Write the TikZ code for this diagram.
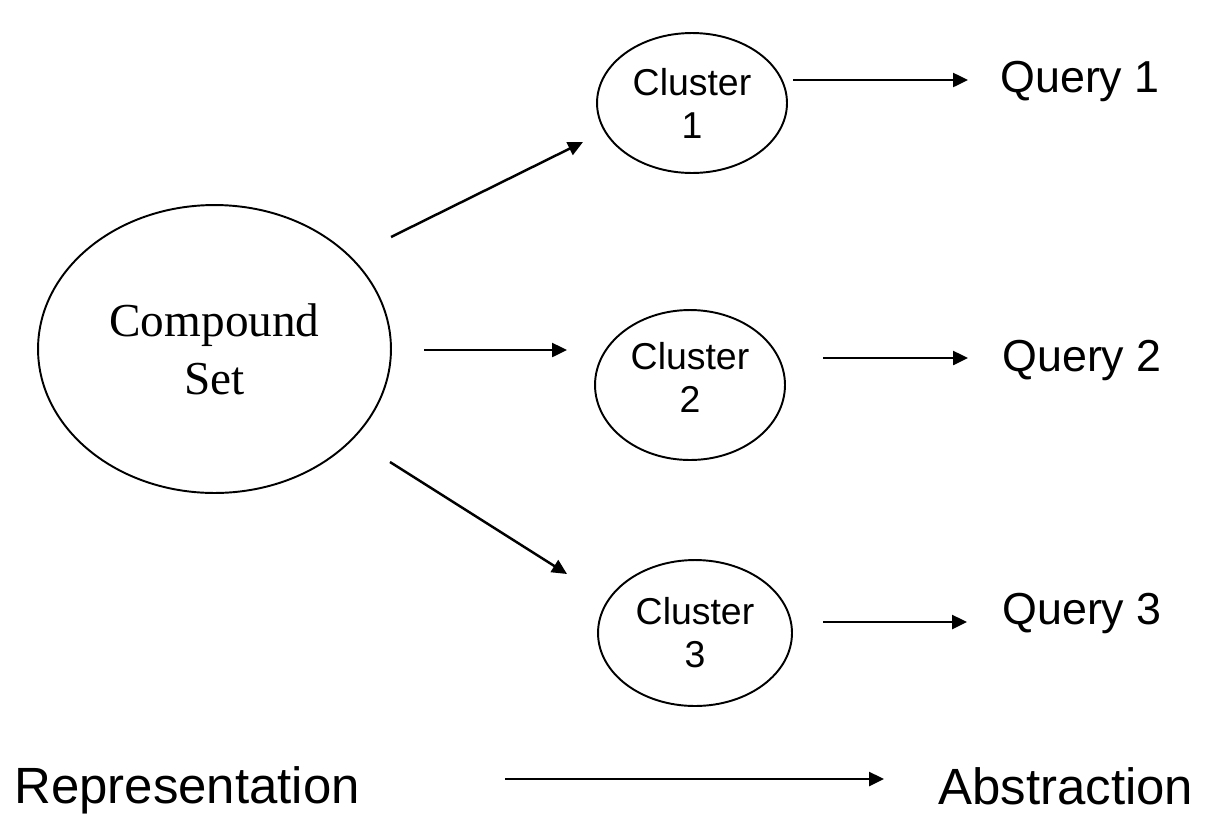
\documentclass[tikz,border=0pt]{standalone}
\usepackage{fontspec}
\setmainfont{Liberation Serif}
\setsansfont{Liberation Sans}
\usetikzlibrary{arrows.meta,shapes.geometric}
\begin{document}
\begin{tikzpicture}[x=0.02cm,y=-0.02cm,
  blob/.style={draw,ellipse,line width=1.1pt,inner sep=0pt,align=center},
  clus/.style={blob,font=\sffamily\fontsize{21.3}{24.5}\selectfont},
  ctext/.style={align=center,inner sep=0pt,font=\sffamily\fontsize{21.3}{24.5}\selectfont},
  qtext/.style={anchor=base west,inner sep=0pt,font=\sffamily\fontsize{25.5}{30}\selectfont},
  btext/.style={anchor=base west,inner sep=0pt,font=\sffamily\fontsize{29}{34}\selectfont},
  arr/.style={line width=1.4pt,-{Triangle[length=0.3cm,width=0.28cm]}}]
\useasboundingbox (0,0) rectangle (1209,822);
% nodes
\node[blob,minimum width=7.06cm,minimum height=5.76cm,
      font=\rmfamily\fontsize{26.9}{33}\selectfont] (cs) at (214.5,349) {Compound\\Set};
\node[clus,minimum width=3.8cm,minimum height=2.8cm] (c1) at (692,103) {Cluster\\1};
\node[clus,minimum width=3.8cm,minimum height=3.0cm] (c2) at (690,385) {};
\node[ctext] (c2t) at ([yshift=0.16cm]c2.center) {Cluster\\2};
\node[clus,minimum width=3.88cm,minimum height=2.92cm] (c3) at (695,633) {Cluster\\3};
\node[qtext] (q1) at (1000,92) {Query 1};
\node[qtext] (q2) at (1002,371) {Query 2};
\node[qtext] (q3) at (1002,624) {Query 3};
\node[btext] (rep) at (14,803) {Representation};
\node[btext] (abs) at (938,804) {Abstraction};
% connector end points
\coordinate (s1) at (391,237); \coordinate (t1) at (583,142);
\coordinate (s2) at (424,350); \coordinate (t2) at (567,350);
\coordinate (s3) at (390,462); \coordinate (t3) at (567,574);
\coordinate (u1) at (793,80);  \coordinate (v1) at (968,80);
\coordinate (u2) at (823,358); \coordinate (v2) at (968,358);
\coordinate (u3) at (823,622); \coordinate (v3) at (967,622);
\coordinate (rs) at (505,779); \coordinate (re) at (884,779);
% connectors
\draw[arr] (s1) -- (t1);
\draw[arr] (s2) -- (t2);
\draw[arr] (s3) -- (t3);
\draw[arr] (u1) -- (v1);
\draw[arr] (u2) -- (v2);
\draw[arr] (u3) -- (v3);
\draw[arr] (rs) -- (re);
\end{tikzpicture}
\end{document}
